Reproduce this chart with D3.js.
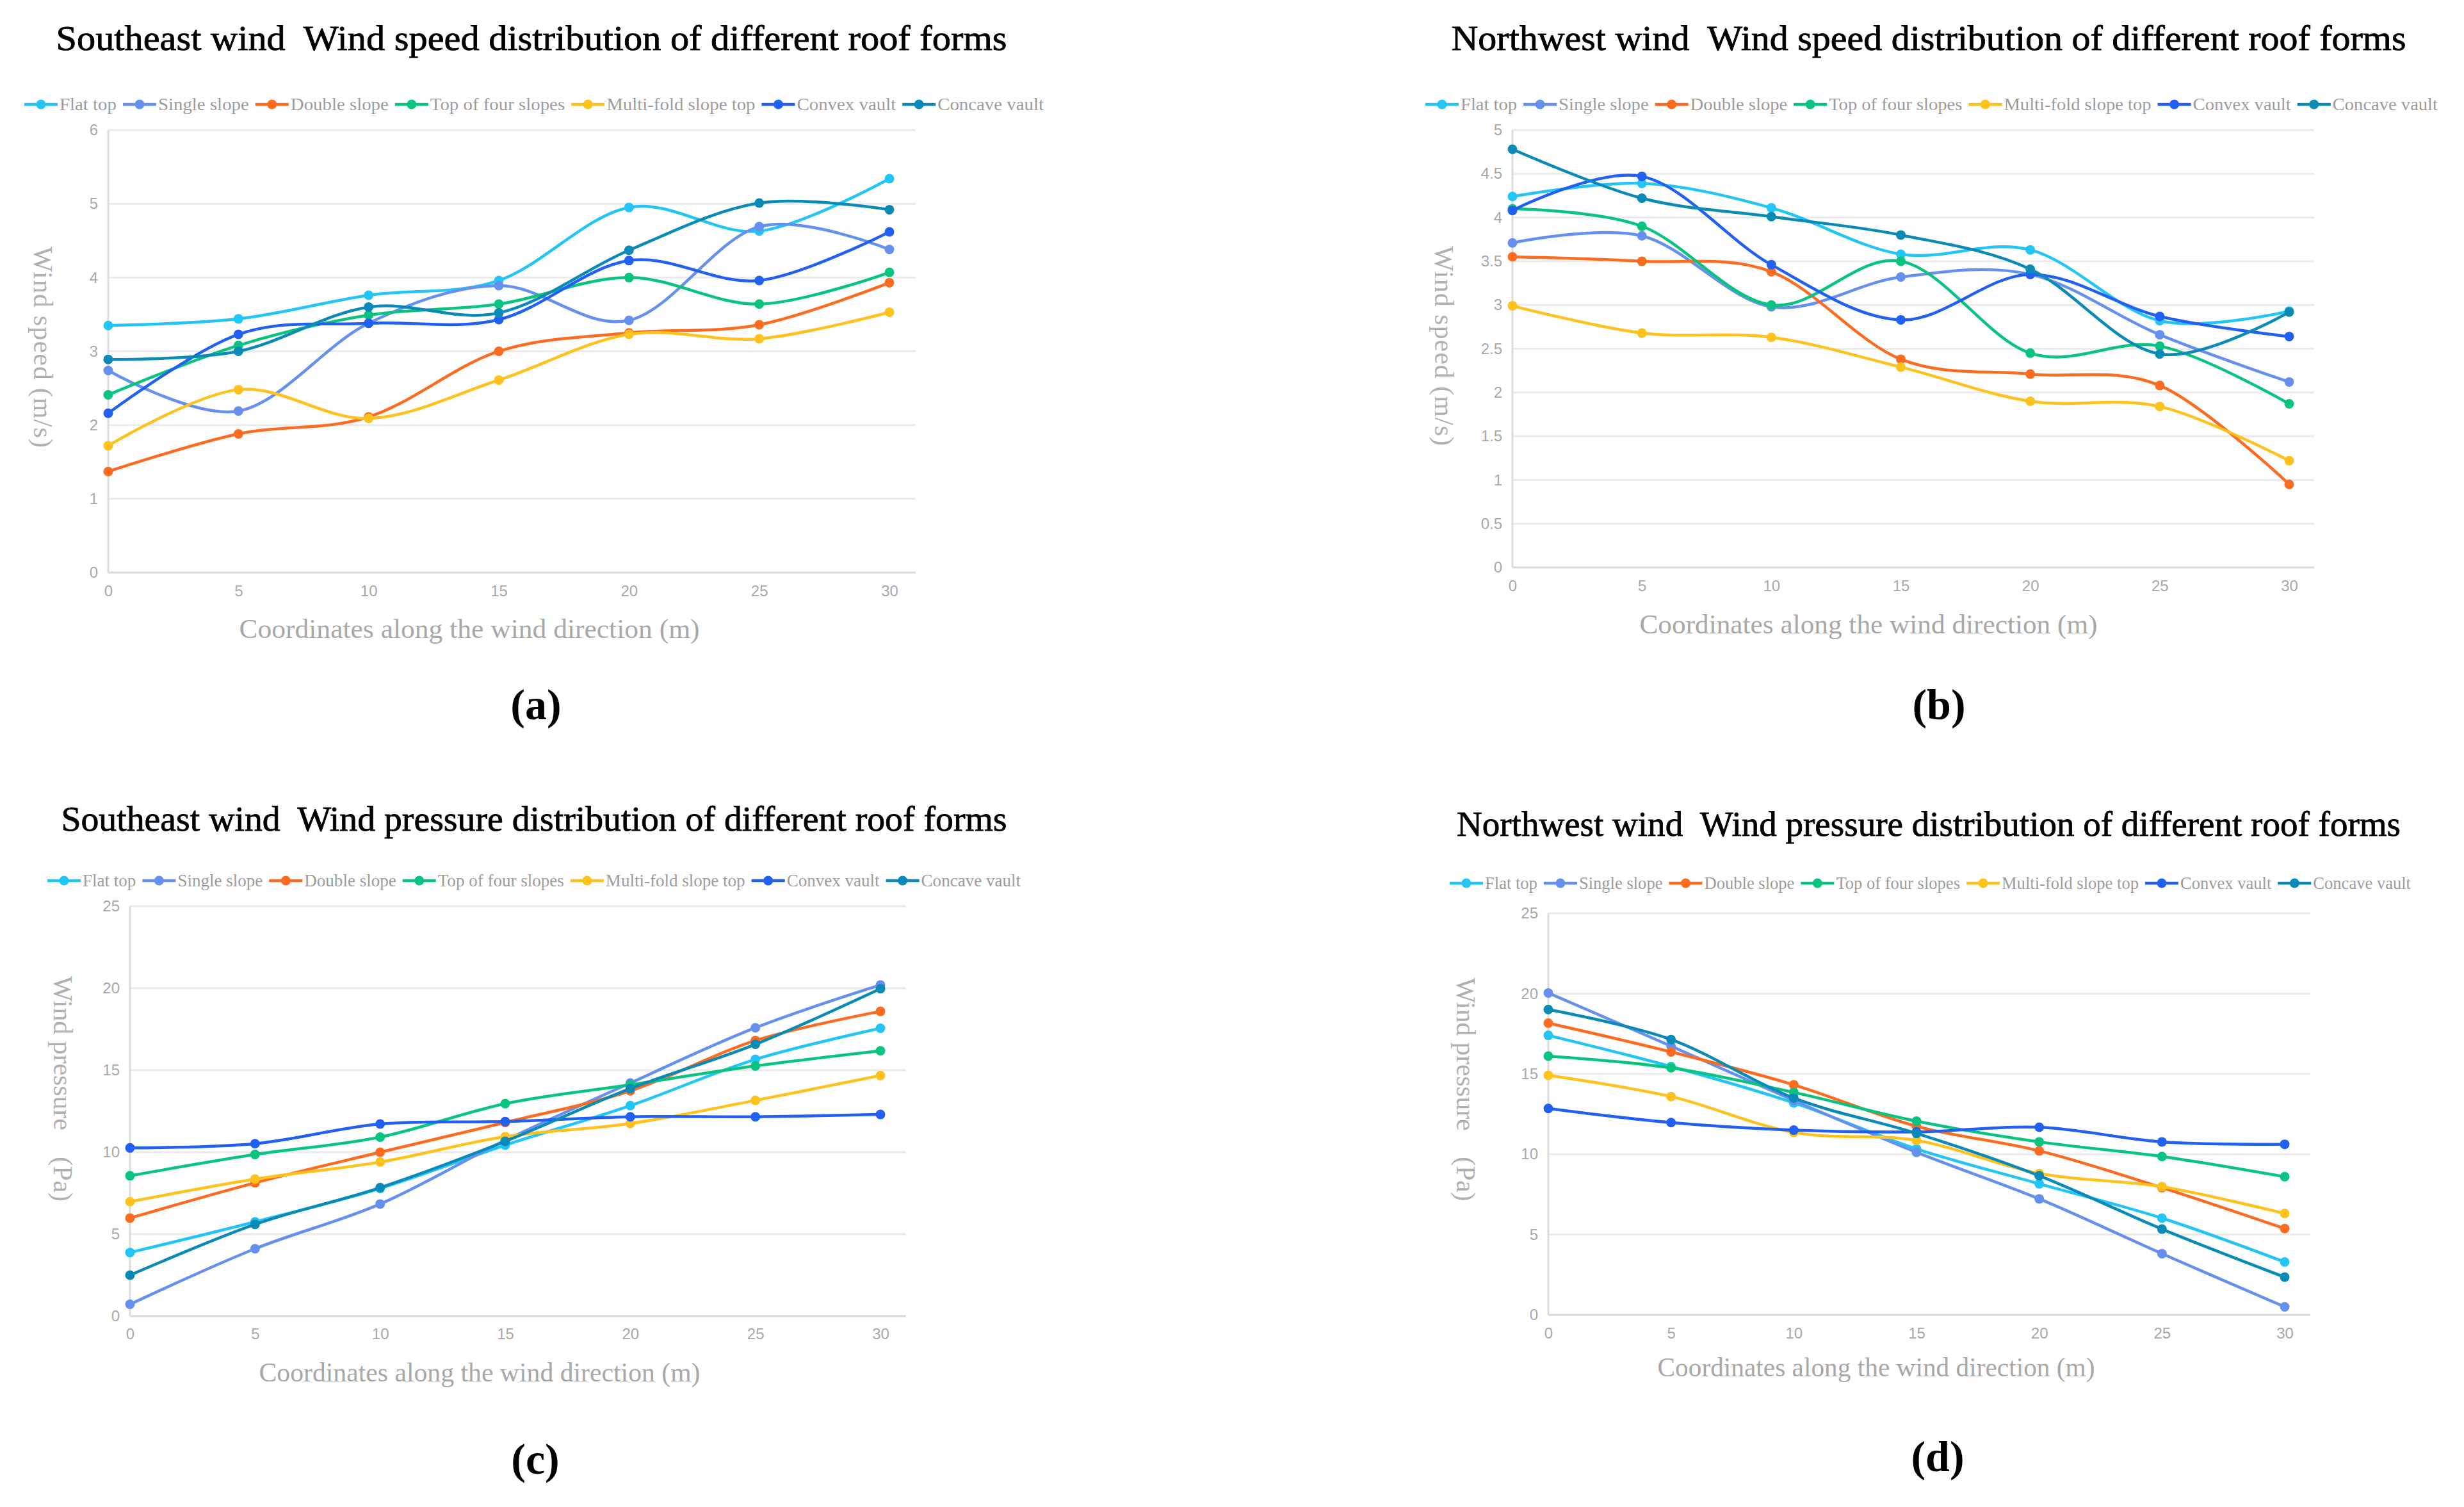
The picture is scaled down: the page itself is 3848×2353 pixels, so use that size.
<!DOCTYPE html>
<html>
<head>
<meta charset="utf-8">
<script src="https://cdn.jsdelivr.net/npm/d3@7"></script>
<style>
  html, body { margin: 0; padding: 0; background: #fff; }
  svg { display: block; }
</style>
</head>
<body>
<svg id="chart" width="3848" height="2353"></svg>
<script>
// coordinates along the wind direction (m)
const xValues = [0, 5, 10, 15, 20, 25, 30];

const seriesNames = ["Flat top", "Single slope", "Double slope", "Top of four slopes",
                     "Multi-fold slope top", "Convex vault", "Concave vault"];
const seriesColors = ["#22c5f6", "#6690f0", "#fd6b20", "#08c47f", "#ffc21c", "#2160f3", "#0a8ab6"];

// wind speed, southeast wind (m/s) - one row per roof form
const speedSE = [
  [3.35, 3.44, 3.76, 3.96, 4.95, 4.63, 5.34],
  [2.74, 2.19, 3.38, 3.89, 3.42, 4.69, 4.38],
  [1.37, 1.88, 2.11, 3.00, 3.25, 3.36, 3.93],
  [2.41, 3.08, 3.49, 3.64, 4.00, 3.64, 4.07],
  [1.72, 2.48, 2.09, 2.61, 3.23, 3.17, 3.53],
  [2.16, 3.23, 3.38, 3.43, 4.23, 3.96, 4.62],
  [2.89, 3.00, 3.60, 3.52, 4.37, 5.01, 4.92]
];
// wind speed, northwest wind (m/s)
const speedNW = [
  [4.24, 4.39, 4.11, 3.58, 3.63, 2.82, 2.93],
  [3.71, 3.79, 2.98, 3.32, 3.35, 2.66, 2.12],
  [3.55, 3.50, 3.38, 2.38, 2.21, 2.08, 0.95],
  [4.10, 3.90, 3.00, 3.50, 2.45, 2.53, 1.87],
  [2.99, 2.68, 2.63, 2.29, 1.90, 1.84, 1.22],
  [4.08, 4.47, 3.46, 2.83, 3.35, 2.87, 2.64],
  [4.78, 4.22, 4.01, 3.80, 3.41, 2.44, 2.92]
];
// wind pressure, southeast wind (Pa)
const pressureSE = [
  [3.88, 5.75, 7.79, 10.43, 12.84, 15.66, 17.56],
  [0.72, 4.11, 6.84, 10.72, 14.22, 17.59, 20.20],
  [5.98, 8.13, 10.00, 11.81, 13.74, 16.81, 18.59],
  [8.56, 9.86, 10.92, 12.96, 14.11, 15.26, 16.18],
  [6.98, 8.36, 9.40, 10.95, 11.75, 13.16, 14.68],
  [10.26, 10.52, 11.72, 11.87, 12.16, 12.16, 12.30],
  [2.50, 5.60, 7.84, 10.66, 13.88, 16.58, 19.97]
];
// wind pressure, northwest wind (Pa)
const pressureNW = [
  [17.40, 15.46, 13.20, 10.33, 8.16, 6.02, 3.29],
  [20.04, 16.73, 13.35, 10.12, 7.22, 3.81, 0.50],
  [18.16, 16.37, 14.32, 11.74, 10.21, 7.92, 5.37],
  [16.11, 15.38, 13.85, 12.06, 10.77, 9.86, 8.60],
  [14.91, 13.59, 11.36, 10.86, 8.80, 7.98, 6.31],
  [12.85, 11.97, 11.50, 11.39, 11.68, 10.77, 10.62],
  [19.01, 17.14, 13.50, 11.30, 8.66, 5.34, 2.35]
];

const speedSETicks = [0, 1, 2, 3, 4, 5, 6];
const speedNWTicks = [0, 0.5, 1, 1.5, 2, 2.5, 3, 3.5, 4, 4.5, 5];
const pressureTicks = [0, 5, 10, 15, 20, 25];

const titles = [
  "Southeast wind  Wind speed distribution of different roof forms",
  "Northwest wind  Wind speed distribution of different roof forms",
  "Southeast wind  Wind pressure distribution of different roof forms",
  "Northwest wind  Wind pressure distribution of different roof forms"
];
const xAxisTitle = "Coordinates along the wind direction (m)";
const yAxisTitles = ["Wind speed (m/s)", "Wind speed (m/s)",
                     "Wind pressure    (Pa)", "Wind pressure    (Pa)"];
const tags = ["(a)", "(b)", "(c)", "(d)"];

// layout of each panel (pixels)
const layouts = [
  {x0: 169, x1: 1389, gridEnd: 1430, yTop: 203, yZero: 894,
   titleX: 830, titleY: 78, titleW: 1485, legX0: 38, legX1: 1630, legY: 163,
   xTickPad: 20, xLabX: 733, xLabY: 996, xLabW: 719, yLabX: 67, yLabY: 542, yLabW: 314,
   tagX: 837, tagY: 1123},
  {x0: 2362, x1: 3575, gridEnd: 3614, yTop: 203, yZero: 886,
   titleX: 3012, titleY: 78, titleW: 1491, legX0: 2226, legX1: 3807, legY: 163,
   xTickPad: 20, xLabX: 2918, xLabY: 989, xLabW: 715, yLabX: 2255, yLabY: 540, yLabW: 312,
   tagX: 3028, tagY: 1123},
  {x0: 203, x1: 1375, gridEnd: 1415, yTop: 1415, yZero: 2055,
   titleX: 834, titleY: 1297, titleW: 1477, legX0: 74, legX1: 1594, legY: 1375,
   xTickPad: 19, xLabX: 749, xLabY: 2157, xLabW: 689, yLabX: 98, yLabY: 1700, yLabW: 352,
   tagX: 836, tagY: 2301},
  {x0: 2418, x1: 3568, gridEnd: 3608, yTop: 1426, yZero: 2053,
   titleX: 3012, titleY: 1305, titleW: 1474, legX0: 2264, legX1: 3765, legY: 1379,
   xTickPad: 20, xLabX: 2930, xLabY: 2149, xLabW: 683, yLabX: 2289, yLabY: 1701, yLabW: 349,
   tagX: 3026, tagY: 2297}
];

const panelValues = [speedSE, speedNW, pressureSE, pressureNW];
const panelTicks = [speedSETicks, speedNWTicks, pressureTicks, pressureTicks];

const svg = d3.select("#chart");
svg.append("rect").attr("width", 3848).attr("height", 2353).attr("fill", "#fff");

const serif = "'Liberation Serif', 'Times New Roman', serif";
const tickFont = "'Liberation Sans', Arial, sans-serif";

function drawPanel(i) {
  const L = layouts[i];
  const values = panelValues[i];
  const ticks = panelTicks[i];
  const g = svg.append("g");

  const x = d3.scaleLinear().domain([0, 30]).range([L.x0, L.x1]);
  const y = d3.scaleLinear().domain([0, d3.max(ticks)]).range([L.yZero, L.yTop]);

  // gridlines
  g.append("g").selectAll("line")
    .data(ticks)
    .join("line")
      .attr("x1", L.x0).attr("x2", L.gridEnd)
      .attr("y1", d => y(d)).attr("y2", d => y(d))
      .attr("stroke", d => d === 0 ? "#d9d9d9" : "#ebebeb")
      .attr("stroke-width", 3);
  // vertical axis line
  g.append("line")
    .attr("x1", L.x0).attr("x2", L.x0)
    .attr("y1", L.yTop).attr("y2", L.yZero)
    .attr("stroke", "#dcdcdc").attr("stroke-width", 3);

  // y axis tick labels
  const yAxis = g.append("g")
    .attr("transform", `translate(${L.x0},0)`)
    .call(d3.axisLeft(y).tickValues(ticks).tickSize(0).tickPadding(16)
      .tickFormat(d3.format("~g")));
  yAxis.select(".domain").remove();
  yAxis.selectAll("text")
    .attr("font-family", tickFont).attr("font-size", 24).attr("fill", "#a8a8a8");

  // x axis tick labels
  const xAxis = g.append("g")
    .attr("transform", `translate(0,${L.yZero})`)
    .call(d3.axisBottom(x).tickValues(xValues).tickSize(0).tickPadding(L.xTickPad)
      .tickFormat(d3.format("d")));
  xAxis.select(".domain").remove();
  xAxis.selectAll("text")
    .attr("font-family", tickFont).attr("font-size", 24).attr("fill", "#a8a8a8");

  // series
  const line = d3.line()
    .x((d, k) => x(xValues[k]))
    .y(d => y(d))
    .curve(d3.curveCardinal.tension(0));

  values.forEach((row, s) => {
    g.append("path")
      .datum(row)
      .attr("d", line)
      .attr("fill", "none")
      .attr("stroke", seriesColors[s])
      .attr("stroke-width", 4.5);
    g.append("g").selectAll("circle")
      .data(row)
      .join("circle")
        .attr("cx", (d, k) => x(xValues[k]))
        .attr("cy", d => y(d))
        .attr("r", 7.5)
        .attr("fill", seriesColors[s]);
  });

  // title
  svg.append("text")
    .attr("x", L.titleX).attr("y", L.titleY)
    .attr("text-anchor", "middle")
    .attr("font-family", serif).attr("font-size", 55)
    .attr("fill", "#000").attr("stroke", "#000").attr("stroke-width", 0.8)
    .attr("textLength", L.titleW).attr("lengthAdjust", "spacingAndGlyphs")
    .style("white-space", "pre")
    .text(titles[i]);

  // legend
  const symW = 52, txtGap = 3, itemGap = 10;
  const leg = svg.append("g");
  const labels = seriesNames.map(name => leg.append("text")
    .attr("font-family", serif).attr("font-size", 27).attr("fill", "#9c9c9c")
    .attr("dominant-baseline", "central")
    .text(name));
  const natural = labels.map(t => t.node().getComputedTextLength());
  const fixed = seriesNames.length * (symW + txtGap) + (seriesNames.length - 1) * itemGap;
  const k = (L.legX1 - L.legX0 - fixed) / d3.sum(natural);
  let cx = L.legX0;
  labels.forEach((t, s) => {
    leg.append("line")
      .attr("x1", cx).attr("x2", cx + symW)
      .attr("y1", L.legY).attr("y2", L.legY)
      .attr("stroke", seriesColors[s]).attr("stroke-width", 4.5);
    leg.append("circle")
      .attr("cx", cx + symW / 2).attr("cy", L.legY).attr("r", 7.5)
      .attr("fill", seriesColors[s]);
    const w = natural[s] * k;
    t.attr("x", cx + symW + txtGap).attr("y", L.legY)
      .attr("textLength", w).attr("lengthAdjust", "spacingAndGlyphs");
    cx += symW + txtGap + w + itemGap;
  });

  // axis titles
  svg.append("text")
    .attr("x", L.xLabX).attr("y", L.xLabY)
    .attr("text-anchor", "middle")
    .attr("font-family", serif).attr("font-size", 43).attr("fill", "#a8a8a8")
    .attr("textLength", L.xLabW).attr("lengthAdjust", "spacingAndGlyphs")
    .text(xAxisTitle);

  svg.append("text")
    .attr("transform", `translate(${L.yLabX},${L.yLabY}) rotate(90)`)
    .attr("text-anchor", "middle")
    .attr("dominant-baseline", "central")
    .attr("font-family", serif).attr("font-size", 42).attr("fill", "#b0b0b0")
    .attr("textLength", L.yLabW).attr("lengthAdjust", "spacing")
    .style("white-space", "pre")
    .text(yAxisTitles[i]);

  // panel tag
  svg.append("text")
    .attr("x", L.tagX).attr("y", L.tagY)
    .attr("text-anchor", "middle")
    .attr("font-family", serif).attr("font-size", 68).attr("font-weight", "bold")
    .attr("fill", "#000")
    .text(tags[i]);
}

[0, 1, 2, 3].forEach(drawPanel);
</script>
</body>
</html>
